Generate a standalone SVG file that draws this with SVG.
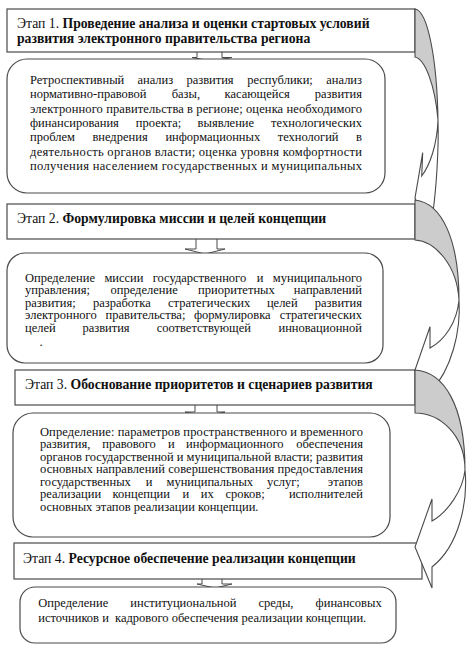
<svg xmlns="http://www.w3.org/2000/svg" width="474" height="653" viewBox="0 0 474 653">
<style>
.stage{fill:#fff;stroke:#4a4a4a;stroke-width:1.2}
.content{fill:#fff;stroke:#4a4a4a;stroke-width:1.2}
.down{fill:#fff;stroke:#4a4a4a;stroke-width:1}
.back{fill:#cccccc;stroke:#4a4a4a;stroke-width:1.1}
.front{fill:#fff;stroke:#4a4a4a;stroke-width:1.1}
.bd{font-weight:bold}
</style>
<rect width="474" height="653" fill="#fff"/>

<g id="connectors">
  <path class="down" d="M197,52 V57.5 H192 L212,61 L232,57.5 H222 V52"/>
  <path class="down" d="M196,239 V249 H185 L205,254 L225,249 H217 V239"/>
  <path class="down" d="M195,405 V412 H185 L205,416 L225,412 H217 V405"/>
  <path class="down" d="M202,579 V584 H197 L215,588 L232,584 H222 V579"/>
</g>

<g font-family="Liberation Serif, Times New Roman, DejaVu Serif, serif" fill="#111">
<g id="stage1" font-size="13.7">
  <rect class="stage" x="7" y="9" width="408" height="43"/>
  <text x="17" y="28">Этап 1. <tspan class="bd">Проведение анализа и оценки стартовых условий</tspan></text>
  <text x="17" y="43"><tspan class="bd">развития электронного правительства региона</tspan></text>
</g>
<g id="content1" font-size="12.5">
  <rect class="content" x="7" y="59" width="378" height="134" rx="20"/>
  <text y="84"><tspan x="30">Ретроспективный</tspan><tspan x="137.4">анализ</tspan><tspan x="186.4">развития</tspan><tspan x="247.2">республики;</tspan><tspan x="362" text-anchor="end">анализ</tspan></text>
  <text y="98.3"><tspan x="30">нормативно-правовой</tspan><tspan x="171.7">базы,</tspan><tspan x="224.5">касающейся</tspan><tspan x="362" text-anchor="end">развития</tspan></text>
  <text x="30" y="112.6" textLength="332" lengthAdjust="spacing">электронного правительства в регионе; оценка необходимого</text>
  <text y="126.9"><tspan x="30">финансирования</tspan><tspan x="135.8">проекта;</tspan><tspan x="197.6">выявление</tspan><tspan x="362" text-anchor="end">технологических</tspan></text>
  <text y="141.2"><tspan x="30">проблем</tspan><tspan x="92.4">внедрения</tspan><tspan x="165.4">информационных</tspan><tspan x="277.7">технологий</tspan><tspan x="362" text-anchor="end">в</tspan></text>
  <text x="30" y="155.5" textLength="332" lengthAdjust="spacing">деятельность органов власти; оценка уровня комфортности</text>
  <text x="30" y="169.8" textLength="332" lengthAdjust="spacing">получения населением государственных и муниципальных</text>
</g>

<g id="stage2" font-size="13.7">
  <rect class="stage" x="7" y="204" width="408" height="35"/>
  <text x="17" y="223">Этап 2. <tspan class="bd">Формулировка миссии и целей концепции</tspan></text>
</g>
<g id="content2" font-size="12.5">
  <rect class="content" x="7" y="253" width="376" height="110" rx="18"/>
  <text y="281.5"><tspan x="25">Определение</tspan><tspan x="104.4">миссии</tspan><tspan x="152.7">государственного</tspan><tspan x="256.7">и</tspan><tspan x="362" text-anchor="end">муниципального</tspan></text>
  <text y="294"><tspan x="25">управления;</tspan><tspan x="110.5">определение</tspan><tspan x="198.1">приоритетных</tspan><tspan x="362" text-anchor="end">направлений</tspan></text>
  <text y="306.5"><tspan x="25">развития;</tspan><tspan x="92.9">разработка</tspan><tspan x="168">стратегических</tspan><tspan x="266.9">целей</tspan><tspan x="362" text-anchor="end">развития</tspan></text>
  <text y="319"><tspan x="25">электронного</tspan><tspan x="105.6">правительства;</tspan><tspan x="193.9">формулировка</tspan><tspan x="362" text-anchor="end">стратегических</tspan></text>
  <text y="331.5"><tspan x="25">целей</tspan><tspan x="82.4">развития</tspan><tspan x="156.7">соответствующей</tspan><tspan x="362" text-anchor="end">инновационной</tspan></text>
  <text x="39.5" y="346">.</text>
</g>

<g id="stage3" font-size="13.7">
  <rect class="stage" x="15" y="370" width="400" height="35"/>
  <text x="25" y="389">Этап 3. <tspan class="bd">Обоснование приоритетов и сценариев развития</tspan></text>
</g>
<g id="content3" font-size="12.5">
  <rect class="content" x="13" y="413" width="377" height="124" rx="20"/>
  <text x="40" y="435.7" textLength="323" lengthAdjust="spacing">Определение: параметров пространственного и временного</text>
  <text y="448"><tspan x="40">развития,</tspan><tspan x="102.2">правового</tspan><tspan x="167.9">и</tspan><tspan x="186.1">информационного</tspan><tspan x="363" text-anchor="end">обеспечения</tspan></text>
  <text x="40" y="460.7" textLength="323" lengthAdjust="spacing">органов государственной и муниципальной власти; развития</text>
  <text x="40" y="473" textLength="323" lengthAdjust="spacing">основных направлений совершенствования предоставления</text>
  <text y="485.7"><tspan x="40">государственных</tspan><tspan x="145.8">и</tspan><tspan x="166.5">муниципальных</tspan><tspan x="266.9">услуг;</tspan><tspan x="363" text-anchor="end">этапов</tspan></text>
  <text y="498"><tspan x="40">реализации</tspan><tspan x="112.6">концепции</tspan><tspan x="182.4">и</tspan><tspan x="200.8">их</tspan><tspan x="225.5">сроков;</tspan><tspan x="363" text-anchor="end">исполнителей</tspan></text>
  <text x="40" y="510.7">основных этапов реализации концепции.</text>
</g>

<g id="stage4" font-size="13.7">
  <rect class="stage" x="14" y="543" width="408" height="36"/>
  <text x="23" y="563">Этап 4. <tspan class="bd">Ресурсное обеспечение реализации концепции</tspan></text>
</g>
<g id="content4" font-size="12.5">
  <rect class="content" x="20" y="587" width="376" height="56" rx="15"/>
  <text y="607.3"><tspan x="38.3">Определение</tspan><tspan x="130.3">институциональной</tspan><tspan x="258.4">среды,</tspan><tspan x="381.7" text-anchor="end">финансовых</tspan></text>
  <text x="38.3" y="622.3" xml:space="preserve">источников и  кадрового обеспечения реализации концепции.</text>
</g>
</g>

<g id="curved-arrows">
  <g id="arrow1">
    <path class="front" d="M438,120 C439,150 436,190 433,212 L430,238 L415,198 L422.7,152.7 L421.7,176 C430,165 437,145 438,120 Z"/>
    <path class="back" d="M415,9 C428,11 437,60 438,120 C435,85 425,59 415,57 Z"/>
  </g>
  <g id="arrow2">
    <path class="front" d="M459,300 C461,330 452,370 430,392 L428,410 L415,370 L430,326.7 L430,348 C445,340 457,322 459,300 Z"/>
    <path class="back" d="M415,200 C442,203 459,240 459,300 C457,265 435,241 415,240 Z"/>
  </g>
  <g id="arrow3">
    <path class="front" d="M465,470 C468,500 460,545 432,567 L432,588 L415,547 L432,499 L432,521 C448,512 463,490 465,470 Z"/>
    <path class="back" d="M415,370 C444,372 465,405 465,470 C465,435 440,413 415,413 Z"/>
  </g>
</g>
</svg>
